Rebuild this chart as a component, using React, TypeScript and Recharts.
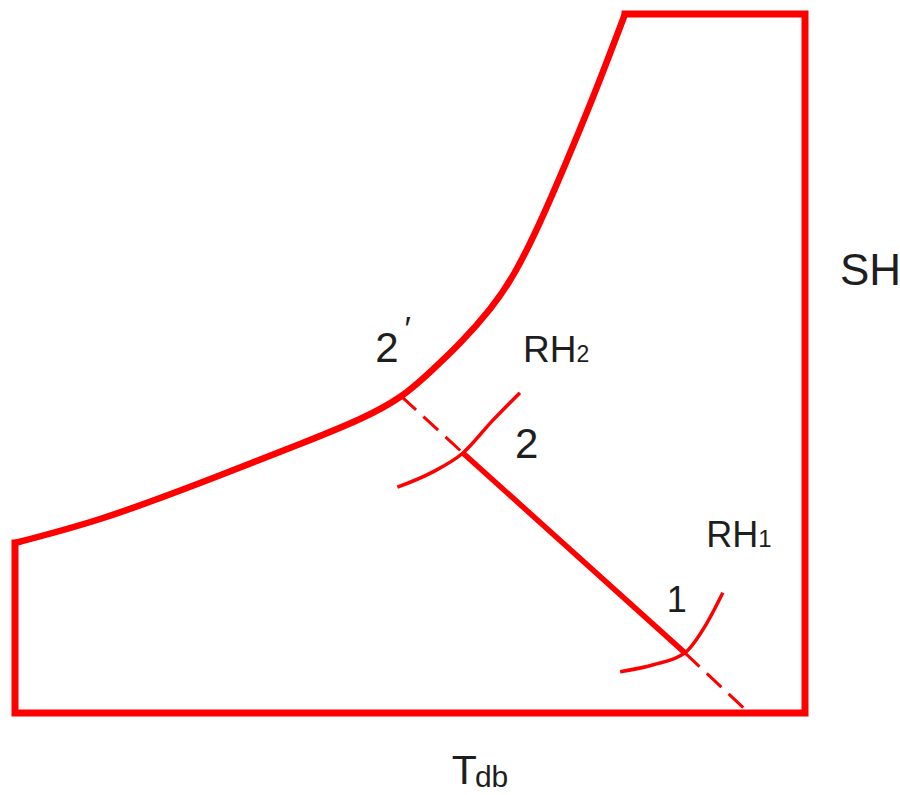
import React from 'react';
import { ComposedChart, Line, XAxis, YAxis, ReferenceDot } from 'recharts';

// Chart units: dry-bulb temperature (T) 0..100 across, specific humidity (SH) 0..100 up.

// Saturation curve (100% RH boundary)
const saturationT = [0, 10.76, 23.42, 36.08, 43.67, 48.73, 52.53, 56.33, 60.13, 63.29, 66.46, 69.62, 73.42, 77.22];
const saturationSH = [24.32, 27.75, 32.9, 38.48, 42.06, 45.21, 48.78, 52.93, 57.8, 63.09, 70.24, 78.4, 88.84, 100];

// Chart boundary: top edge, right edge, bottom edge, left edge
const frameT = [77.22, 100, 100, 0, 0];
const frameSH = [100, 100, 0, 0, 24.32];

// Process line through states 2' - 2 - 1 and on to the bottom edge
const processT = [48.9, 56.7, 84.8, 92.9];
const processSH = [45.3, 37.2, 8.6, 0];

// Constant relative humidity arcs through states 2 and 1
const rh2T = [48.4, 52.9, 56.7, 60.5, 63.9];
const rh2SH = [32.3, 34.5, 37.2, 41.9, 45.8];
const rh1T = [76.6, 80.8, 84.8, 87.6, 89.6];
const rh1SH = [5.9, 6.9, 8.6, 12.9, 17.2];

// Point labels
const labelText = ['2', 'RH', '2', 'RH', '1'];
const labelSub = ['', '2', '', '1', ''];
const labelT = [45.6, 64.3, 63.3, 87.5, 82.5];
const labelSH = [50.2, 50.2, 36.5, 23.8, 14.5];

const xTitle = 'T';
const xTitleSub = 'db';
const yTitle = 'SH';

const RED = '#ff0000';
const INK = '#1e1e1e';
const FONT = '"Liberation Sans", Arial, sans-serif';

const zip = (xs: number[], ys: number[]) => xs.map((x, i) => ({ x, y: ys[i] }));

const saturation = zip(saturationT, saturationSH);
const frame = zip(frameT, frameSH);
const solidProcess = zip(processT.slice(1, 3), processSH.slice(1, 3));
const dashedUpper = zip(processT.slice(0, 2), processSH.slice(0, 2));
const dashedLower = zip(processT.slice(2, 4), processSH.slice(2, 4));
const rh2 = zip(rh2T, rh2SH);
const rh1 = zip(rh1T, rh1SH);

const sizes = [42, 37, 42, 36, 36];
const subSizes = [0, 23, 0, 24, 0];

const makeLabel = (i: number) => (props: any) => {
  const vb = props.viewBox || {};
  return (
    <text x={vb.x} y={vb.y} fontSize={sizes[i]} fontFamily={FONT} fill={INK}>
      {labelText[i]}
      {labelSub[i] ? <tspan fontSize={subSizes[i]}>{labelSub[i]}</tspan> : null}
      {i === 0 ? (
        <tspan dx={6} dy={-22} fontSize={34}>
          ′
        </tspan>
      ) : null}
    </text>
  );
};

const renderXTitle = (props: any) => {
  const vb = props.viewBox;
  return (
    <text x={vb.x + vb.width * 0.553} y={vb.y + 71} fontSize={41} fontFamily={FONT} fill={INK}>
      {xTitle}
      <tspan dx={-2} dy={3} fontSize={30}>
        {xTitleSub}
      </tspan>
    </text>
  );
};

const renderYTitle = (props: any) => {
  const vb = props.viewBox;
  return (
    <text x={vb.x + 35} y={vb.y + 271} fontSize={44} fontFamily={FONT} fill={INK}>
      {yTitle}
    </text>
  );
};

const lineCommon = {
  dataKey: 'y',
  stroke: RED,
  dot: false,
  activeDot: false,
  isAnimationActive: false,
} as const;

export default function App() {
  return (
    <div style={{ position: 'absolute', left: 0, top: 0, width: 900, height: 795, background: '#fff' }}>
      <ComposedChart width={900} height={795} margin={{ top: 14, right: 0, bottom: 0, left: 15 }}>
        <XAxis
          type="number"
          dataKey="x"
          domain={[0, 100]}
          height={82}
          tick={false}
          tickLine={false}
          axisLine={false}
          label={renderXTitle}
        />
        <YAxis
          type="number"
          dataKey="y"
          domain={[0, 100]}
          orientation="right"
          width={95}
          tick={false}
          tickLine={false}
          axisLine={false}
          label={renderYTitle}
        />
        <Line {...lineCommon} data={frame} type="linear" strokeWidth={7} strokeLinejoin="miter" strokeLinecap="square" />
        <Line {...lineCommon} data={saturation} type="natural" strokeWidth={6.5} />
        <Line {...lineCommon} data={dashedUpper} type="linear" strokeWidth={3} strokeDasharray="20 10" />
        <Line {...lineCommon} data={dashedLower} type="linear" strokeWidth={3} strokeDasharray="20 10" />
        <Line {...lineCommon} data={solidProcess} type="linear" strokeWidth={5.5} />
        <Line {...lineCommon} data={rh2} type="monotone" strokeWidth={3.5} />
        <Line {...lineCommon} data={rh1} type="monotone" strokeWidth={3.5} />
        {labelText.map((_, i) => (
          <ReferenceDot
            key={i}
            x={labelT[i]}
            y={labelSH[i]}
            r={0}
            fill="none"
            stroke="none"
            ifOverflow="visible"
            label={makeLabel(i)}
          />
        ))}
      </ComposedChart>
    </div>
  );
}
